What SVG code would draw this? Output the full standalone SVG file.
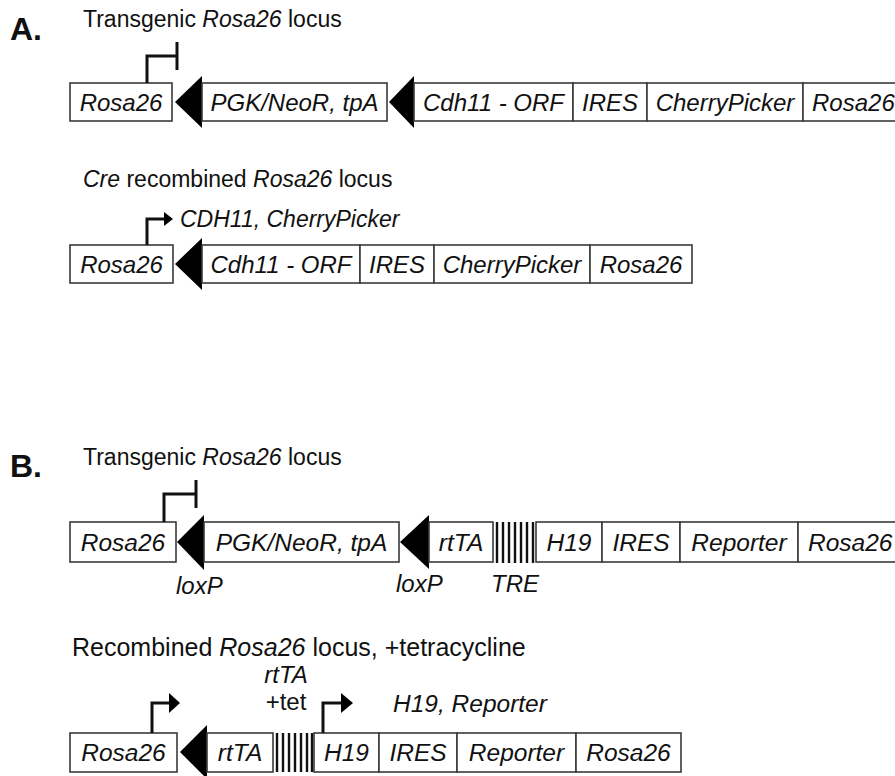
<svg xmlns="http://www.w3.org/2000/svg" width="895" height="776" viewBox="0 0 895 776">
<defs>
<style>
.box{fill:#fff;stroke:#3a3a3a;stroke-width:1.6}
.t{font-family:"Liberation Sans",Arial,sans-serif;font-size:23px;fill:#111}
.ba{font-size:24px}
.bb{font-size:24.5px}
.i{font-style:italic}
.c{text-anchor:middle}
.hd{font-family:"Liberation Sans",Arial,sans-serif;font-size:32px;font-weight:bold;fill:#111}
.tri{fill:#000}
.prom{fill:none;stroke:#111;stroke-width:3}
.bar{stroke:#111;stroke-width:2.4}
</style>
</defs>
<rect width="895" height="776" fill="#fff"/>

<!-- Section A -->
<g id="A-label">
<text class="hd" x="10" y="40">A.</text>
<text class="t" x="83" y="27">Transgenic <tspan class="i">Rosa26</tspan> locus</text>
</g>
<g id="A1">
<g id="A1-rosa26-left"><rect class="box" x="70" y="83" width="102" height="38"/><text class="t ba i c" x="121" y="111">Rosa26</text></g>
<g id="A1-loxp1"><polygon class="tri" points="175,102 202,76 202,128"/></g>
<g id="A1-pgk"><rect class="box" x="202" y="83" width="185" height="38"/><text class="t ba i c" x="294.5" y="111">PGK/NeoR, tpA</text></g>
<g id="A1-loxp2"><polygon class="tri" points="389,102 414,76 414,128"/></g>
<g id="A1-cdh11"><rect class="box" x="414" y="83" width="159" height="38"/><text class="t ba i c" x="493.5" y="111">Cdh11 - ORF</text></g>
<g id="A1-ires"><rect class="box" x="573" y="83" width="74" height="38"/><text class="t ba i c" x="610" y="111">IRES</text></g>
<g id="A1-cherry"><rect class="box" x="647" y="83" width="156" height="38"/><text class="t ba i c" x="725" y="111">CherryPicker</text></g>
<g id="A1-rosa26-right"><rect class="box" x="803" y="83" width="110" height="38"/><text class="t ba i" x="812" y="111">Rosa26</text></g>
</g>

<g id="A2">
<text class="t" x="83" y="187"><tspan class="i">Cre</tspan> recombined <tspan class="i">Rosa26</tspan> locus</text>
<text class="t i" x="180" y="227">CDH11, CherryPicker</text>
<g id="A2-rosa26-left"><rect class="box" x="70" y="245" width="103" height="38"/><text class="t ba i c" x="121.5" y="273">Rosa26</text></g>
<g id="A2-loxp"><polygon class="tri" points="175,264 202,238 202,290"/></g>
<g id="A2-cdh11"><rect class="box" x="202" y="245" width="158" height="38"/><text class="t ba i c" x="281" y="273">Cdh11 - ORF</text></g>
<g id="A2-ires"><rect class="box" x="360" y="245" width="74" height="38"/><text class="t ba i c" x="397" y="273">IRES</text></g>
<g id="A2-cherry"><rect class="box" x="434" y="245" width="156" height="38"/><text class="t ba i c" x="512" y="273">CherryPicker</text></g>
<g id="A2-rosa26-right"><rect class="box" x="590" y="245" width="102" height="38"/><text class="t ba i c" x="641" y="273">Rosa26</text></g>
</g>

<!-- Section B -->
<g id="B-label">
<text class="hd" x="10" y="477">B.</text>
<text class="t" x="83" y="465">Transgenic <tspan class="i">Rosa26</tspan> locus</text>
</g>
<g id="B1">
<g id="B1-rosa26-left"><rect class="box" x="70" y="522" width="106" height="40"/><text class="t bb i c" x="123" y="551">Rosa26</text></g>
<g id="B1-loxp1"><polygon class="tri" points="177,542 204,515 204,570"/><text class="t ba i" x="176" y="594">loxP</text></g>
<g id="B1-pgk"><rect class="box" x="204" y="522" width="195" height="40"/><text class="t bb i c" x="301.5" y="551">PGK/NeoR, tpA</text></g>
<g id="B1-loxp2"><polygon class="tri" points="400,542 429,515 429,569"/><text class="t ba i" x="396" y="592">loxP</text></g>
<g id="B1-rtta"><rect class="box" x="429" y="522" width="64" height="40"/><text class="t bb i c" x="461" y="551">rtTA</text></g>
<g id="B1-tre">
<line class="bar" x1="497" y1="522" x2="497" y2="563"/>
<line class="bar" x1="503" y1="522" x2="503" y2="563"/>
<line class="bar" x1="509" y1="522" x2="509" y2="563"/>
<line class="bar" x1="515" y1="522" x2="515" y2="563"/>
<line class="bar" x1="521" y1="522" x2="521" y2="563"/>
<line class="bar" x1="527" y1="522" x2="527" y2="563"/>
<line class="bar" x1="533" y1="522" x2="533" y2="563"/>
<text class="t ba i" x="491" y="592">TRE</text>
</g>
<g id="B1-h19"><rect class="box" x="536" y="522" width="66" height="40"/><text class="t bb i c" x="569" y="551">H19</text></g>
<g id="B1-ires"><rect class="box" x="602" y="522" width="78" height="40"/><text class="t bb i c" x="641" y="551">IRES</text></g>
<g id="B1-reporter"><rect class="box" x="680" y="522" width="118" height="40"/><text class="t bb i c" x="739" y="551">Reporter</text></g>
<g id="B1-rosa26-right"><rect class="box" x="798" y="522" width="110" height="40"/><text class="t bb i" x="808" y="551">Rosa26</text></g>
</g>

<g id="B2">
<text class="t" x="72" y="656" style="font-size:25px">Recombined <tspan class="i">Rosa26</tspan> locus, +tetracycline</text>
<text class="t i c" x="286" y="683" style="font-size:24px">rtTA</text>
<text class="t c" x="286" y="710" style="font-size:24px">+tet</text>
<text class="t i" x="393" y="712" style="font-size:24.5px">H19, Reporter</text>
<g id="B2-rosa26-left"><rect class="box" x="70" y="733" width="107" height="39"/><text class="t bb i c" x="123.5" y="761">Rosa26</text></g>
<g id="B2-loxp"><polygon class="tri" points="180,752 207,725 207,779"/></g>
<g id="B2-rtta"><rect class="box" x="207" y="733" width="66" height="39"/><text class="t bb i c" x="240" y="761">rtTA</text></g>
<g id="B2-tre">
<line class="bar" x1="277" y1="733" x2="277" y2="772"/>
<line class="bar" x1="283" y1="733" x2="283" y2="772"/>
<line class="bar" x1="289" y1="733" x2="289" y2="772"/>
<line class="bar" x1="295" y1="733" x2="295" y2="772"/>
<line class="bar" x1="301" y1="733" x2="301" y2="772"/>
<line class="bar" x1="307" y1="733" x2="307" y2="772"/>
<line class="bar" x1="312" y1="733" x2="312" y2="772"/>
</g>
<g id="B2-h19"><rect class="box" x="314" y="733" width="65" height="39"/><text class="t bb i c" x="346.5" y="761">H19</text></g>
<g id="B2-ires"><rect class="box" x="379" y="733" width="78" height="39"/><text class="t bb i c" x="418" y="761">IRES</text></g>
<g id="B2-reporter"><rect class="box" x="457" y="733" width="119" height="39"/><text class="t bb i c" x="516.5" y="761">Reporter</text></g>
<g id="B2-rosa26-right"><rect class="box" x="576" y="733" width="105" height="39"/><text class="t bb i c" x="628.5" y="761">Rosa26</text></g>
</g>

<!-- promoter arrows -->
<g id="connectors">
<path class="prom" d="M147,83 V56 H177 M177,42 V70"/>
<path class="prom" d="M147,245 V219 H166"/>
<polygon class="tri" points="164,212 173,219 164,226"/>
<path class="prom" d="M164,522 V494 H196 M196,480 V508"/>
<path class="prom" d="M152,733 V703 H170"/>
<polygon class="tri" points="169,693 180,703 169,713"/>
<path class="prom" d="M323,733 V703 H342"/>
<polygon class="tri" points="341,693 353,703 341,713"/>
</g>
</svg>
